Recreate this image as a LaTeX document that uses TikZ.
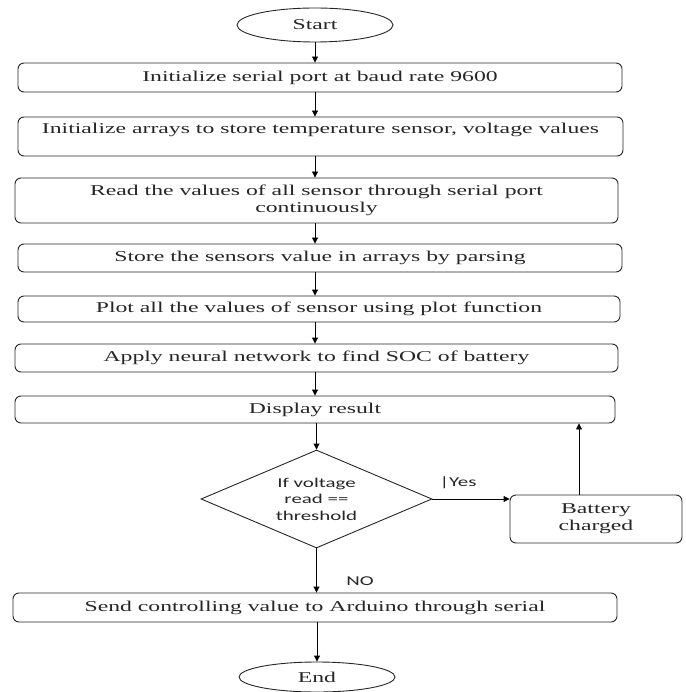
\documentclass[tikz,border=0pt]{standalone}
\usepackage{fontspec}
\setmainfont{Liberation Serif}[FakeStretch=1.58]
\newfontfamily\calfont{Carlito}[FakeStretch=1.55]
\usetikzlibrary{shapes.geometric,arrows.meta}
\begin{document}
\begin{tikzpicture}[x=1pt,y=-1pt,
  boxst/.style={draw=black!85, rounded corners=6pt, inner sep=0pt, align=center, line width=0.9pt,
    text=black!85, font=\fontsize{15}{17}\selectfont},
  ovalst/.style={draw=black!85, ellipse, inner sep=0pt, line width=0.9pt, text=black!85,
    font=\fontsize{15}{17}\selectfont},
  decst/.style={draw=black!85, diamond, inner sep=0pt, aspect=2.36, align=center, line width=0.9pt,
    text=black!85, font=\calfont\fontsize{13.5}{16.5}\selectfont},
  lblst/.style={inner sep=0pt, text=black!85, font=\calfont\fontsize{13.5}{16.5}\selectfont},
  arr/.style={draw=black, line width=0.9pt, -{Triangle[length=6pt,width=6pt]}}]
\useasboundingbox (0,0) rectangle (685,692);
\node[ovalst, minimum width=156pt, minimum height=34pt] (start) at (315,25) {Start};
\node[boxst, minimum width=604pt, minimum height=29pt] (b1) at (320,77.5) {Initialize serial port at baud rate 9600};
\node[boxst, minimum width=605pt, minimum height=39pt] (b2) at (320.5,136.5) {Initialize arrays to store temperature sensor, voltage values\\ \mbox{}};
\node[boxst, minimum width=603pt, minimum height=45pt] (b3) at (316.5,200.5) {Read the values of all sensor through serial port\\ continuously};
\node[boxst, minimum width=604pt, minimum height=28pt] (b4) at (320,258) {Store the sensors value in arrays by parsing};
\node[boxst, minimum width=602pt, minimum height=26pt] (b5) at (319,309) {Plot all the values of sensor using plot function};
\node[boxst, minimum width=603pt, minimum height=28pt] (b6) at (316.5,358) {Apply neural network to find SOC of battery};
\node[boxst, minimum width=600pt, minimum height=27pt] (b7) at (315,409.5) {Display result};
\node[decst, minimum width=231pt, minimum height=98pt] (dec) at (316.5,499) {If voltage\\ read ==\\ threshold};
\node[boxst, minimum width=172pt, minimum height=48pt] (bat) at (596,519) {Battery\\ charged};
\node[boxst, minimum width=604pt, minimum height=29pt] (send) at (315,607.5) {Send controlling value to Arduino through serial};
\node[ovalst, minimum width=156pt, minimum height=30pt] (endn) at (317,677) {End};
\node[lblst] (yes) at (458,483) {|Yes};
\node[lblst] (no) at (360,581) {NO};
\draw[arr] (start.south) -- (start.south |- b1.north);
\draw[arr] (start.south |- b1.south) -- (start.south |- b2.north);
\draw[arr] (start.south |- b2.south) -- (start.south |- b3.north);
\draw[arr] (start.south |- b3.south) -- (start.south |- b4.north);
\draw[arr] (start.south |- b4.south) -- (start.south |- b5.north);
\draw[arr] (start.south |- b5.south) -- (start.south |- b6.north);
\draw[arr] (start.south |- b6.south) -- (start.south |- b7.north);
\draw[arr] (dec.north |- b7.south) -- (dec.north);
\draw[arr] (dec.east) -- (dec.east -| bat.west);
\draw[arr] ([xshift=-17pt]bat.north) -- ([xshift=-17pt]bat.north |- b7.south);
\draw[arr] (dec.south) -- (dec.south |- send.north);
\draw[arr] (endn.north |- send.south) -- (endn.north);
\end{tikzpicture}
\end{document}
